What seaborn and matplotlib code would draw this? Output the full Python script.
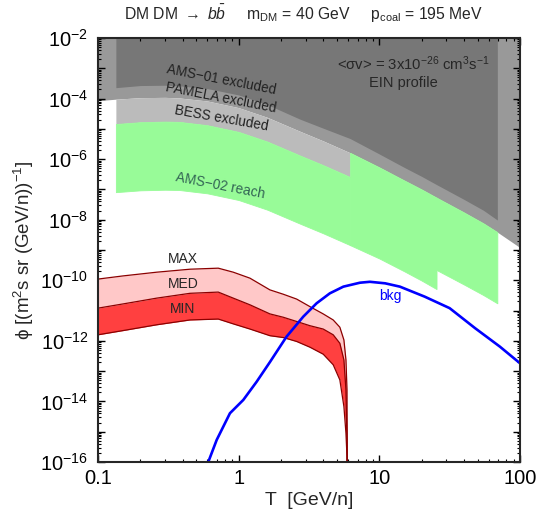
import numpy as np
import pandas as pd
import matplotlib
matplotlib.use("Agg")
import matplotlib.pyplot as plt
import matplotlib.ticker as mticker
import seaborn as sns

# ---------------- data (log10 of flux) ----------------
T_band = [0.1, 0.134, 0.2, 0.3, 0.38, 0.6, 1.0, 1.6, 2.73, 4.0, 6.2, 10, 15, 20, 25.5, 40, 55, 69, 100]
pamela_log = [-4.07, -4.02, -3.97, -3.96, -3.98, -4.08, -4.30, -4.62, -5.08, -5.40, -5.79, -6.27, -6.70, -7.00, -7.27, -7.76, -8.12, -8.41, -8.92]
ams01_log = [np.nan, -3.64, -3.57, -3.56, -3.58, -3.67, -3.88, -4.20, -4.68, -4.98, -5.32, -5.83, -6.27, -6.57, -6.84, -7.33, -7.69, -8.01, np.nan]
bess_log = [np.nan, -4.84, -4.78, -4.76, -4.77, -4.88, -5.10, -5.42, -5.88, -6.20, -6.59, np.nan, np.nan, np.nan, np.nan, np.nan, np.nan, np.nan, np.nan]
ams02_low_log = [np.nan, -7.09, -7.03, -7.01, -7.02, -7.13, -7.35, -7.67, -8.13, -8.45, -8.84, -9.28, -9.70, -10.01, -10.29, np.nan, np.nan, np.nan, np.nan]
ams02_low2_log = [np.nan, np.nan, np.nan, np.nan, np.nan, np.nan, np.nan, np.nan, np.nan, np.nan, np.nan, np.nan, np.nan, np.nan, -9.66, -10.14, -10.49, -10.76, np.nan]

T_sig = [0.1, 0.151, 0.261, 0.451, 0.716, 0.916, 1.203, 1.668, 2.074, 2.582, 3.213, 3.99, 4.70, 5.24, 5.60, 5.79, 5.89, 5.92]
max_log = [-9.96, -9.855, -9.733, -9.634, -9.60, -9.733, -9.93, -10.317, -10.46, -10.62, -10.87, -11.11, -11.31, -11.55, -11.97, -12.63, -13.62, -17.0]
med_log = [-10.92, -10.78, -10.59, -10.43, -10.39, -10.59, -10.81, -11.11, -11.22, -11.36, -11.50, -11.61, -11.80, -12.08, -12.63, -13.62, -15.27, -17.0]
min_log = [-11.80, -11.66, -11.47, -11.31, -11.28, -11.44, -11.61, -11.83, -11.89, -12.02, -12.21, -12.44, -12.79, -13.29, -14.17, -15.05, -15.82, -17.0]

T_bkg = [0.608, 0.698, 0.867, 1.079, 1.342, 1.668, 2.19, 2.88, 3.58, 4.45, 5.55, 7.28, 8.57, 11.0, 14.0, 21.0, 31.6, 47.9, 71.9, 100]
bkg_log = [-16.0, -15.27, -14.39, -13.95, -13.35, -12.70, -11.86, -11.20, -10.76, -10.43, -10.21, -10.08, -10.05, -10.10, -10.21, -10.54, -10.92, -11.58, -12.19, -12.74]

x_ticks = [0.1, 1, 10, 100]
x_ticklabels = ["0.1", "1", "10", "100"]
y_label_exps = [-2, -4, -6, -8, -10, -12, -14, -16]

# ---------------- style ----------------
sns.set_theme(style="ticks")
plt.rcParams["font.family"] = ["Liberation Sans", "DejaVu Sans"]
plt.rcParams["mathtext.fontset"] = "custom"
plt.rcParams["mathtext.rm"] = "Liberation Sans"
plt.rcParams["mathtext.it"] = "Liberation Sans:italic"
plt.rcParams["mathtext.bf"] = "Liberation Sans:bold"

fig = plt.figure(figsize=(5.39, 5.14), dpi=100)
ax = fig.add_axes([98 / 539, 1 - 462 / 514, 422 / 539, 424 / 514])

Tb = np.array(T_band)
P = 10.0 ** np.array(pamela_log)
A = 10.0 ** np.array(ams01_log)
B = 10.0 ** np.array(bess_log)
G = 10.0 ** np.array(ams02_low_log)
G2 = 10.0 ** np.array(ams02_low2_log)
top = 1e-2
green = "#98fb98"

# PAMELA (medium gray)
ax.fill_between(Tb, P, top, color="#999999", lw=0, zorder=1)
# AMS-01 (dark gray)
m = ~np.isnan(A)
ax.fill_between(Tb[m], A[m], top, color="#777777", lw=0, zorder=2)
# BESS (light gray)
m = ~np.isnan(B)
ax.fill_between(Tb[m], B[m], P[m], color="#bbbbbb", lw=0, zorder=2)
# AMS-02 reach (green)
ax.fill_between(Tb[m], G[m], B[m], facecolor=green, edgecolor=green, lw=0.6, zorder=2)
m2 = (Tb >= 6.2) & (Tb <= 25.5)
ax.fill_between(Tb[m2], G[m2], P[m2], facecolor=green, edgecolor=green, lw=0.6, zorder=2)
m3 = ~np.isnan(G2)
ax.fill_between(Tb[m3], G2[m3], P[m3], facecolor=green, edgecolor=green, lw=0.6, zorder=2)

# signal bands
Ts = np.array(T_sig)
Smax = 10.0 ** np.array(max_log)
Smed = 10.0 ** np.array(med_log)
Smin = 10.0 ** np.array(min_log)
ax.fill_between(Ts, Smed, Smax, color="#ffc8c8", lw=0, zorder=3)
ax.fill_between(Ts, Smin, Smed, color="#ff4040", lw=0, zorder=3)
edge = "#8b0000"
for arr in (Smax, Smed, Smin):
    sns.lineplot(x=Ts, y=arr, ax=ax, color=edge, lw=0.9, estimator=None, sort=False, zorder=4)

# background
bkg_df = pd.DataFrame({"T": T_bkg, "phi": 10.0 ** np.array(bkg_log)})
sns.lineplot(data=bkg_df, x="T", y="phi", ax=ax, color="#0000ff", lw=1.9, estimator=None, sort=False, zorder=5)

# axes
ax.set_xscale("log")
ax.set_yscale("log")
ax.set_xlim(0.1, 100)
ax.set_ylim(1e-16, 1e-2)
ax.set_xticks(x_ticks)
ax.set_xticklabels(x_ticklabels)
ax.xaxis.set_minor_locator(mticker.LogLocator(base=10, subs=np.arange(2, 10), numticks=20))
ax.yaxis.set_major_locator(mticker.LogLocator(base=10, numticks=30))
ax.yaxis.set_minor_locator(mticker.LogLocator(base=10, subs=np.arange(2, 10), numticks=30))


def yfmt(v, pos):
    e = int(round(np.log10(v)))
    if e in y_label_exps:
        return r"$10^{%d}$" % e
    return ""


ax.yaxis.set_major_formatter(mticker.FuncFormatter(yfmt))
ax.yaxis.set_minor_formatter(mticker.NullFormatter())
ax.tick_params(which="both", direction="in", top=True, right=True, labelsize=14.5, colors="black")
ax.tick_params(which="major", length=5, width=1.0)
ax.tick_params(which="minor", length=2.5, width=0.8)
ax.tick_params(axis="x", pad=5)
ax.tick_params(axis="y", pad=7)
for s in ax.spines.values():
    s.set_linewidth(1.5)
    s.set_zorder(10)
ax.set_axisbelow(False)

ax.set_xlabel("T  [GeV/n]", fontsize=14, labelpad=3)
ax.set_ylabel("\u03d5 [(m$^{2}$s sr (GeV/n))$^{-1}$]", fontsize=13.5, labelpad=3)

# texts
fig.text(0.563, 0.972, r"DM DM $\rightarrow$ $b\bar{b}$     m$_{\rm DM}$ = 40 GeV     p$_{\rm coal}$ = 195 MeV",
         ha="center", va="center", fontsize=11.3)

ax.text(0.748, 10 ** -3.39, "AMS\u221201 excluded", rotation=-11, ha="center", va="center",
        fontsize=9.8, color="#222222", rotation_mode="anchor", zorder=6)
ax.text(0.748, 10 ** -3.98, "PAMELA excluded", rotation=-11, ha="center", va="center",
        fontsize=9.8, color="#222222", rotation_mode="anchor", zorder=6)
ax.text(0.748, 10 ** -4.64, "BESS excluded", rotation=-10, ha="center", va="center",
        fontsize=9.8, color="#222222", rotation_mode="anchor", zorder=6)
ax.text(0.736, 10 ** -6.88, "AMS\u221202 reach", rotation=-11, ha="center", va="center",
        fontsize=9.8, color="#336655", rotation_mode="anchor", zorder=6)

ax.text(10 ** (-1 + (413 - 98) / 140.7), 10 ** (-2 - (64 - 38) / 30.3),
        "<\u03c3v> = 3x10$^{-26}$ cm$^{3}$s$^{-1}$", ha="center", va="center", fontsize=10.7, zorder=6)
ax.text(10 ** (-1 + (403 - 98) / 140.7), 10 ** (-2 - (83 - 38) / 30.3),
        "EIN profile", ha="center", va="center", fontsize=10.5, zorder=6)

ax.text(10 ** (-1 + (183 - 98) / 140.7), 10 ** (-2 - (259 - 38) / 30.3), "MAX",
        ha="center", va="center", fontsize=10, zorder=6)
ax.text(10 ** (-1 + (183 - 98) / 140.7), 10 ** (-2 - (284 - 38) / 30.3), "MED",
        ha="center", va="center", fontsize=10, zorder=6)
ax.text(10 ** (-1 + (183 - 98) / 140.7), 10 ** (-2 - (309.5 - 38) / 30.3), "MIN",
        ha="center", va="center", fontsize=10, zorder=6)
ax.text(10 ** (-1 + (390 - 98) / 140.7), 10 ** (-2 - (296 - 38) / 30.3), "bkg",
        ha="center", va="center", fontsize=10, color="#0000ff", zorder=6)

fig.savefig("out.png", dpi=100)
